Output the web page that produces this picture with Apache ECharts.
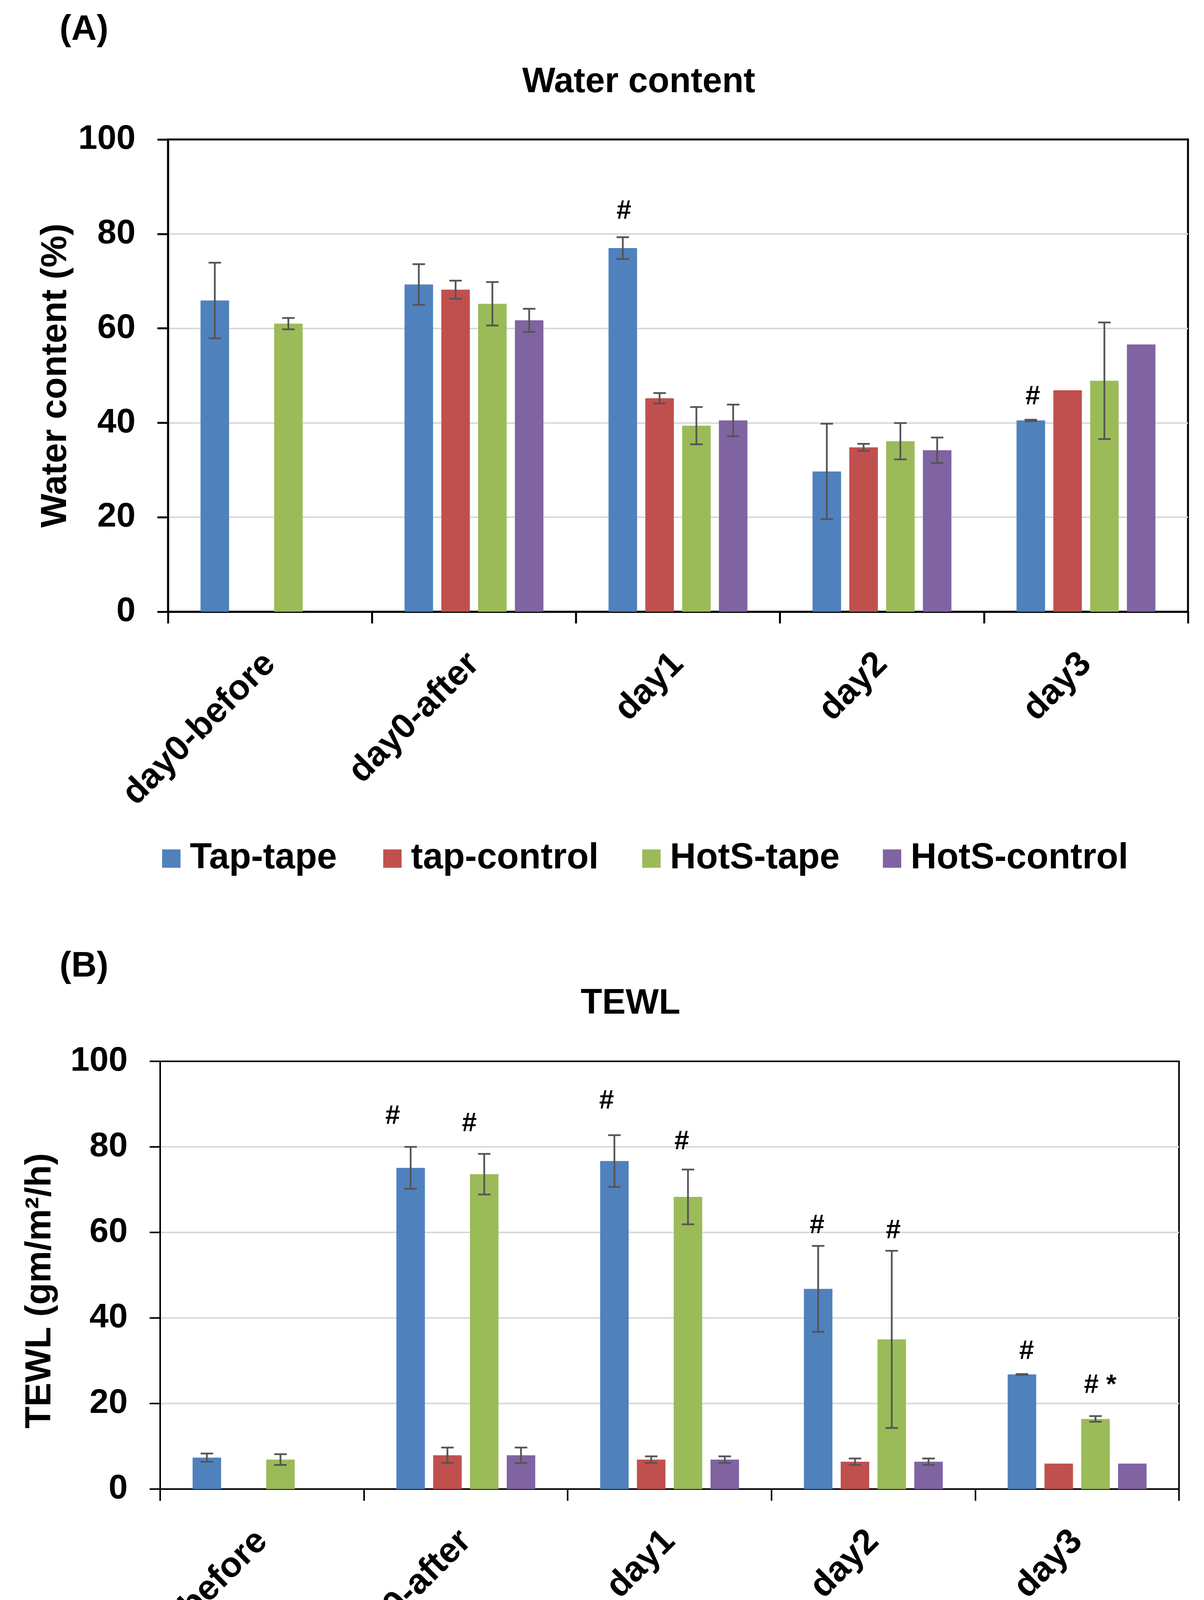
<!DOCTYPE html>
<html>
<head>
<meta charset="utf-8">
<script src="https://cdn.jsdelivr.net/npm/echarts@6/dist/echarts.min.js"></script>
<style>
html, body { margin: 0; padding: 0; background: #fff; }
#chart { width: 3082px; height: 4504px; }
</style>
</head>
<body>
<div id="chart"></div>
<script>
// data
const categories = ['day0-before', 'day0-after', 'day1', 'day2', 'day3']
const seriesNames = ['Tap-tape', 'tap-control', 'HotS-tape', 'HotS-control']
const yTicks = [0, 20, 40, 60, 80, 100]

// (A) Water content (%)
const waterTapTape = [65.9, 69.3, 77.0, 29.7, 40.5]
const waterTapControl = [null, 68.2, 45.2, 34.8, 46.9]
const waterHotsTape = [61.0, 65.2, 39.4, 36.1, 48.9]
const waterHotsControl = [null, 61.7, 40.5, 34.2, 56.6]
// error bars (+/-)
const waterTapTapeErr = [8.0, 4.3, 2.3, 10.1, 0.15]
const waterTapControlErr = [null, 1.9, 1.1, 0.75, 0]
const waterHotsTapeErr = [1.2, 4.6, 3.95, 3.85, 12.35]
const waterHotsControlErr = [null, 2.45, 3.35, 2.7, 0]
// significance marks: category, series, height on value axis, text
const waterMarkCat = [2, 4]
const waterMarkSeries = [0, 0]
const waterMarkY = [84.8, 45.5]
const waterMarkText = ['#', '#']

// (B) TEWL (gm/m2/h)
const tewlTapTape = [7.35, 75.1, 76.7, 46.8, 26.8]
const tewlTapControl = [null, 7.9, 6.9, 6.4, 5.95]
const tewlHotsTape = [6.9, 73.6, 68.3, 35.0, 16.4]
const tewlHotsControl = [null, 7.9, 6.9, 6.4, 5.95]
const tewlTapTapeErr = [0.95, 4.9, 6.05, 10.05, 0.1]
const tewlTapControlErr = [null, 1.8, 0.75, 0.75, 0]
const tewlHotsTapeErr = [1.25, 4.75, 6.4, 20.7, 0.65]
const tewlHotsControlErr = [null, 1.8, 0.75, 0.75, 0]
const tewlMarkCat = [1, 1, 2, 2, 3, 3, 4, 4]
const tewlMarkSeries = [0, 2, 0, 2, 0, 2, 0, 2]
const tewlMarkY = [87.1, 85.4, 90.7, 81.2, 61.5, 60.3, 32.1, 24.2]
const tewlMarkText = ['#', '#', '#', '#', '#', '#', '#', '# *']

// styling
const colors = ['#4F81BD', '#C0504D', '#9BBB59', '#8064A2']
const FONT = '"Liberation Sans", Arial, sans-serif'
const BAR_W = 73
const BAR_GAP = 0.29
const BAR_PITCH = BAR_W * (1 + BAR_GAP)
// horizontal nudges of the marks (px), they sit slightly off the bars
const waterMarkNudge = [3, 5]
const tewlMarkNudge = [-46, -38, -20, -16, -3, 4, 12, 12]

const chart = echarts.init(document.getElementById('chart'), null, { renderer: 'canvas' })

function errItems (values, errs) {
  const out = []
  values.forEach((vals, s) => {
    vals.forEach((v, c) => {
      const e = errs[s][c]
      if (v != null && e) out.push([c, v, e, s])
    })
  })
  return out
}

function renderErr (params, api) {
  const c = api.value(0)
  const v = api.value(1)
  const e = api.value(2)
  const s = api.value(3)
  const dx = (s - 1.5) * BAR_PITCH
  const hi = api.coord([c, v + e])
  const lo = api.coord([c, v - e])
  const x = hi[0] + dx
  const st = { stroke: '#555555', lineWidth: 4.5 }
  return {
    type: 'group',
    children: [
      { type: 'line', shape: { x1: x, y1: hi[1], x2: x, y2: lo[1] }, style: st },
      { type: 'line', shape: { x1: x - 16, y1: hi[1], x2: x + 16, y2: hi[1] }, style: st },
      { type: 'line', shape: { x1: x - 16, y1: lo[1], x2: x + 16, y2: lo[1] }, style: st }
    ]
  }
}

function markSeries (idx, cats, sers, ys, texts, nudges) {
  return {
    type: 'custom',
    xAxisIndex: idx,
    yAxisIndex: idx,
    silent: true,
    z: 5,
    data: cats.map((c, i) => [c, ys[i], sers[i]]),
    encode: { x: 0, y: 1 },
    renderItem: (params, api) => {
      const i = params.dataIndex
      const p = api.coord([api.value(0), api.value(1)])
      return {
        type: 'text',
        x: p[0] + (api.value(2) - 1.5) * BAR_PITCH + nudges[i],
        y: p[1],
        style: {
          text: texts[i],
          font: 'bold 68px ' + FONT,
          fill: '#000',
          align: 'center',
          verticalAlign: 'middle',
          textAlign: 'center',
          textVerticalAlign: 'middle'
        }
      }
    }
  }
}

function barSeries (idx, values) {
  return values.map((vals, s) => ({
    name: seriesNames[s],
    type: 'bar',
    xAxisIndex: idx,
    yAxisIndex: idx,
    barWidth: BAR_W,
    barGap: (BAR_GAP * 100) + '%',
    itemStyle: { color: colors[s] },
    silent: true,
    data: vals.map(v => (v == null ? '-' : v))
  }))
}

function xAxisOf (idx, w) {
  return {
    type: 'category',
    gridIndex: idx,
    data: categories,
    axisLine: { lineStyle: { color: '#000', width: w } },
    axisTick: { show: true, length: 30, lineStyle: { color: '#000', width: w } },
    axisLabel: {
      rotate: 45,
      interval: 0,
      margin: 120,
      color: '#000',
      fontSize: 90,
      fontWeight: 'bold',
      fontFamily: FONT
    }
  }
}

function yAxisOf (idx, name, gap, w, pad) {
  return {
    type: 'value',
    gridIndex: idx,
    min: yTicks[0],
    max: yTicks[yTicks.length - 1],
    interval: yTicks[1] - yTicks[0],
    name: name,
    nameLocation: 'middle',
    nameRotate: 90,
    nameGap: gap,
    nameTextStyle: { color: '#000', fontSize: 92, fontWeight: 'bold', fontFamily: FONT, padding: pad },
    axisLine: { show: true, lineStyle: { color: '#000', width: w } },
    axisTick: { show: true, length: 27, lineStyle: { color: '#000', width: w } },
    axisLabel: { margin: 83, color: '#000', fontSize: 88, fontWeight: 'bold', fontFamily: FONT },
    splitLine: { show: true, showMinLine: false, showMaxLine: false, lineStyle: { color: '#d9d9d9', width: 4 } }
  }
}

function legendsAt (lefts, top) {
  return seriesNames.map((n, i) => ({
    data: [n],
    left: lefts[i],
    top: top,
    icon: 'rect',
    itemWidth: 47,
    itemHeight: 47,
    selectedMode: false,
    textStyle: { color: '#000', fontSize: 92, fontWeight: 'bold', fontFamily: FONT, padding: [0, 0, 0, 19] }
  }))
}

function label (text, x, y) {
  return {
    type: 'text',
    x: x,
    y: y,
    style: {
      text: text,
      font: 'bold 90px ' + FONT,
      fill: '#000',
      align: 'center',
      verticalAlign: 'middle',
      textAlign: 'center',
      textVerticalAlign: 'middle'
    }
  }
}

const waterValues = [waterTapTape, waterTapControl, waterHotsTape, waterHotsControl]
const waterErrs = [waterTapTapeErr, waterTapControlErr, waterHotsTapeErr, waterHotsControlErr]
const tewlValues = [tewlTapTape, tewlTapControl, tewlHotsTape, tewlHotsControl]
const tewlErrs = [tewlTapTapeErr, tewlTapControlErr, tewlHotsTapeErr, tewlHotsControlErr]

chart.setOption({
  animation: false,
  backgroundColor: '#fff',
  graphic: [
    label('(A)', 215, 77),
    label('Water content', 1635, 211),
    label('(B)', 215, 2475),
    label('TEWL', 1614, 2570)
  ],
  legend: legendsAt([410, 976, 1639, 2255], 2147).concat(legendsAt([389, 954, 1617, 2234], 4394)),
  grid: [
    { left: 430, top: 357, width: 2611, height: 1209, show: true, borderColor: '#000', borderWidth: 5 },
    { left: 410, top: 2717, width: 2608, height: 1095, show: true, borderColor: '#000', borderWidth: 4 }
  ],
  xAxis: [xAxisOf(0, 5), xAxisOf(1, 4)],
  yAxis: [
    yAxisOf(0, 'Water content (%)', 232, 5, 0),
    yAxisOf(1, 'TEWL (gm/m²/h)', 260, 4, [0, 80, 0, 0])
  ],
  series: [].concat(
    barSeries(0, waterValues),
    barSeries(1, tewlValues),
    [
      { type: 'custom', xAxisIndex: 0, yAxisIndex: 0, silent: true, z: 4, encode: { x: 0, y: 1 }, data: errItems(waterValues, waterErrs), renderItem: renderErr },
      { type: 'custom', xAxisIndex: 1, yAxisIndex: 1, silent: true, z: 4, encode: { x: 0, y: 1 }, data: errItems(tewlValues, tewlErrs), renderItem: renderErr },
      markSeries(0, waterMarkCat, waterMarkSeries, waterMarkY, waterMarkText, waterMarkNudge),
      markSeries(1, tewlMarkCat, tewlMarkSeries, tewlMarkY, tewlMarkText, tewlMarkNudge)
    ]
  )
})
</script>
</body>
</html>
